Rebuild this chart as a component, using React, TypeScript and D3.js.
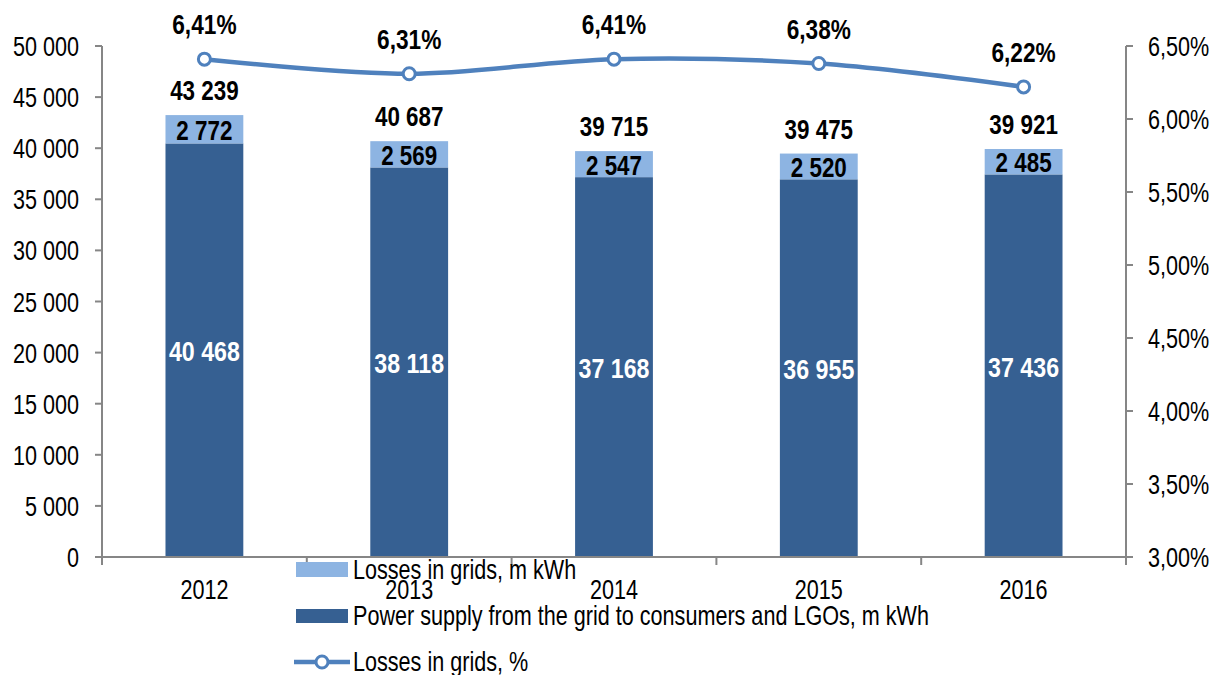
import React from "react";
import * as d3 from "d3";

const width = 1226;
const height = 675;

const years = ["2012", "2013", "2014", "2015", "2016"];
const supply = [40468, 38118, 37168, 36955, 37436];
const losses = [2772, 2569, 2547, 2520, 2485];
const totals = [43239, 40687, 39715, 39475, 39921];
const lossPct = [6.41, 6.31, 6.41, 6.38, 6.22];
const leftTicks = [0, 5000, 10000, 15000, 20000, 25000, 30000, 35000, 40000, 45000, 50000];
const rightTicks = [3.0, 3.5, 4.0, 4.5, 5.0, 5.5, 6.0, 6.5];

const dark = "#366092";
const light = "#8DB4E2";
const lineBlue = "#4F81BD";
const axisGray = "#868686";
const font = "'Liberation Sans', Arial, sans-serif";

const left = 102;
const right = 1126;
const top = 46;
const bottom = 557;

const fmtNum = (v: number) => d3.format(",")(v).replace(/,/g, " ");
const fmtPct = (v: number) => v.toFixed(2).replace(".", ",") + "%";

// narrow text: Arial squeezed horizontally, as no narrow font is installed
const T = ({ x, y, sx = 0.8, anchor = "start", bold = false, fill = "#000", children }: any) => (
  <text
    transform={`translate(${x},${y}) scale(${sx},1)`}
    textAnchor={anchor}
    fontWeight={bold ? "bold" : "normal"}
    fontSize={27}
    fill={fill}
  >
    {children}
  </text>
);

const App = () => {
  const x = d3.scaleBand().domain(years).range([left, right]).paddingInner(0.62).paddingOuter(0.31);
  const xc = d3.scaleBand().domain(years).range([left, right]);
  const y = d3.scaleLinear().domain([0, 50000]).range([bottom, top]);
  const yr = d3.scaleLinear().domain([3, 6.5]).range([bottom, top]);

  const line = d3
    .line<number>()
    .x((_, i) => xc(years[i])! + xc.bandwidth() / 2)
    .y((d) => yr(d))
    .curve(d3.curveCardinal.tension(0));

  const bounds = years.map((yy) => xc(yy)!).concat([right]);

  return (
    <svg width={width} height={height} style={{ position: "absolute", left: 0, top: 0 }} fontFamily={font}>
      <rect width={width} height={height} fill="#fff" />

      {/* bars */}
      {years.map((yr0, i) => {
        const bx = x(yr0)!;
        const bw = x.bandwidth();
        const ySup = y(supply[i]);
        const yTot = y(supply[i] + losses[i]);
        const cx = bx + bw / 2;
        return (
          <g key={yr0}>
            <rect x={bx} y={ySup} width={bw} height={bottom - ySup} fill={dark} />
            <rect x={bx} y={yTot} width={bw} height={ySup - yTot} fill={light} />
            <T x={cx} y={(ySup + bottom) / 2 + 11} anchor="middle" bold fill="#fff" sx={0.86}>
              {fmtNum(supply[i])}
            </T>
            <T x={cx} y={(yTot + ySup) / 2 + 10.5} anchor="middle" bold sx={0.83}>
              {fmtNum(losses[i])}
            </T>
            <T x={cx} y={yTot - 15} anchor="middle" bold sx={0.83}>
              {fmtNum(totals[i])}
            </T>
          </g>
        );
      })}

      {/* left axis */}
      <line x1={left} x2={left} y1={top} y2={bottom + 8} stroke={axisGray} strokeWidth={2} />
      {leftTicks.map((t) => (
        <g key={t}>
          <line x1={left - 7} x2={left} y1={y(t)} y2={y(t)} stroke={axisGray} strokeWidth={2} />
          <T x={79} y={y(t) + 10} anchor="end">
            {fmtNum(t)}
          </T>
        </g>
      ))}

      {/* right axis */}
      <line x1={right} x2={right} y1={top} y2={bottom + 8} stroke={axisGray} strokeWidth={2} />
      {rightTicks.map((t) => (
        <g key={t}>
          <line x1={right} x2={right + 7} y1={yr(t)} y2={yr(t)} stroke={axisGray} strokeWidth={2} />
          <T x={1148} y={yr(t) + 10}>
            {fmtPct(t)}
          </T>
        </g>
      ))}

      {/* x axis */}
      <line x1={left} x2={right} y1={bottom} y2={bottom} stroke={axisGray} strokeWidth={2} />
      {bounds.map((b, i) => (
        <line key={i} x1={b} x2={b} y1={bottom} y2={bottom + 8} stroke={axisGray} strokeWidth={2} />
      ))}
      {years.map((yy) => (
        <T key={yy} x={xc(yy)! + xc.bandwidth() / 2} y={599} anchor="middle">
          {yy}
        </T>
      ))}

      {/* line series */}
      <path d={line(lossPct)!} fill="none" stroke={lineBlue} strokeWidth={4.5} />
      {lossPct.map((p, i) => {
        const cx = xc(years[i])! + xc.bandwidth() / 2;
        const cy = yr(p);
        return (
          <g key={i}>
            <circle cx={cx} cy={cy} r={6} fill="#fff" stroke={lineBlue} strokeWidth={3} />
            <T x={cx} y={cy - 25} anchor="middle" bold sx={0.84}>
              {fmtPct(p)}
            </T>
          </g>
        );
      })}

      {/* legend */}
      <rect x={296} y={562} width={52} height={15} fill={light} />
      <T x={353} y={579}>Losses in grids, m kWh</T>
      <rect x={296} y={609} width={52} height={14} fill={dark} />
      <T x={353} y={625}>Power supply from the grid to consumers and LGOs, m kWh</T>
      <line x1={294} x2={350} y1={662} y2={662} stroke={lineBlue} strokeWidth={4.5} />
      <circle cx={322} cy={662} r={6} fill="#fff" stroke={lineBlue} strokeWidth={3} />
      <T x={353} y={671}>Losses in grids, %</T>
    </svg>
  );
};

export default App;
